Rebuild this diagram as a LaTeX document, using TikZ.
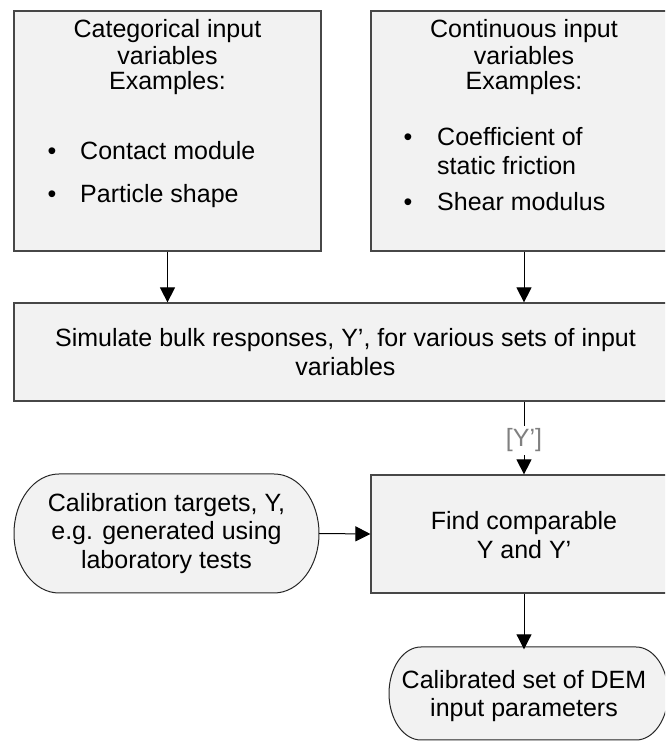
\documentclass[tikz,border=0pt]{standalone}
\usepackage{fontspec}
\setmainfont{Liberation Sans}
\usetikzlibrary{arrows.meta,calc}
\definecolor{boxfill}{HTML}{F2F2F2}
\definecolor{lblgray}{HTML}{808080}
\tikzset{
  box/.style={draw=black!72, line width=1.2pt, fill=boxfill, inner sep=0pt},
  oval/.style={draw=black!85, line width=1pt, fill=boxfill},
  txt/.style={font=\fontsize{25}{27}\selectfont, inner sep=0pt, anchor=base},
  lefttxt/.style={txt, anchor=base west},
  blk/.style={font=\fontsize{25}{28.5}\selectfont, inner sep=0pt, align=center},
  arr/.style={-{Triangle[length=15pt,width=15pt]}, line width=1pt, draw=black},
  lbl/.style={font=\fontsize{25}{27}\selectfont, text=lblgray, fill=white, inner sep=3pt}
}
\begin{document}
\begin{tikzpicture}[x=1pt,y=1pt]
\path[use as bounding box] (0,0) rectangle (665,742);
\clip (0,0) rectangle (665,742);

% top boxes
\node[box, minimum width=307pt, minimum height=240pt] (b1) at (167.5,611) {};
\node[box, minimum width=306pt, minimum height=240pt] (b2) at (524,611) {};

\node[txt] (b1h1) at (167.5,704) {Categorical input};
\node[txt] (b1h2) at (167.5,677) {variables};
\node[txt] (b1h3) at (167.5,652) {Examples:};
\node[txt] (b1d1) at (52,582) {•};
\node[lefttxt] (b1t1) at (80,582) {Contact module};
\node[txt] (b1d2) at (52,539) {•};
\node[lefttxt] (b1t2) at (80,539) {Particle shape};

\node[txt] (b2h1) at (524,704) {Continuous input};
\node[txt] (b2h2) at (524,677) {variables};
\node[txt] (b2h3) at (524,652) {Examples:};
\node[txt] (b2d1) at (408,596) {•};
\node[lefttxt] (b2t1) at (437,596) {Coefficient of};
\node[lefttxt] (b2t1b) at (437,567) {static friction};
\node[txt] (b2d2) at (408,531) {•};
\node[lefttxt] (b2t2) at (437,531) {Shear modulus};

% simulate box
\node[box, minimum width=663pt, minimum height=98pt] (sim) at (345.5,390) {};
\node[blk] (simt) at (345.5,390) {Simulate bulk responses, Y’, for various sets of input\\variables};

% find box
\node[box, minimum width=306pt, minimum height=118pt] (find) at (524,208) {};
\node[blk] (findt) at (524,207) {Find comparable\\Y and Y’};

% calibration targets (stadium)
\draw[oval] (59,268) -- (274,268) arc[start angle=90, end angle=-90, x radius=45, y radius=59.5]
  -- (59,149) arc[start angle=270, end angle=90, x radius=45, y radius=59.5] -- cycle;
\node[blk, minimum width=305pt, minimum height=119pt] (cal) at (166.5,208.5) {Calibration targets, Y,\\e.g. generated using\\laboratory tests};

% calibrated set (stadium)
\draw[oval] (421,95) -- (636,95) arc[start angle=90, end angle=-90, x radius=32, y radius=46.5]
  -- (421,2) arc[start angle=270, end angle=90, x radius=32, y radius=46.5] -- cycle;
\node[blk, minimum width=279pt, minimum height=93pt] (res) at (524,46) {Calibrated set of DEM\\input parameters};

% connectors
\draw[arr] (b1.south) -- (sim.north -| b1.south);
\draw[arr] (b2.south) -- (sim.north -| b2.south);
\draw[arr] (sim.south -| find.north) -- node[lbl, pos=0.53] {[Y’]} (find.north);
\draw[arr] (cal.east) -- (find.west);
\draw[arr] (find.south) -- (res.north);
\end{tikzpicture}
\end{document}
